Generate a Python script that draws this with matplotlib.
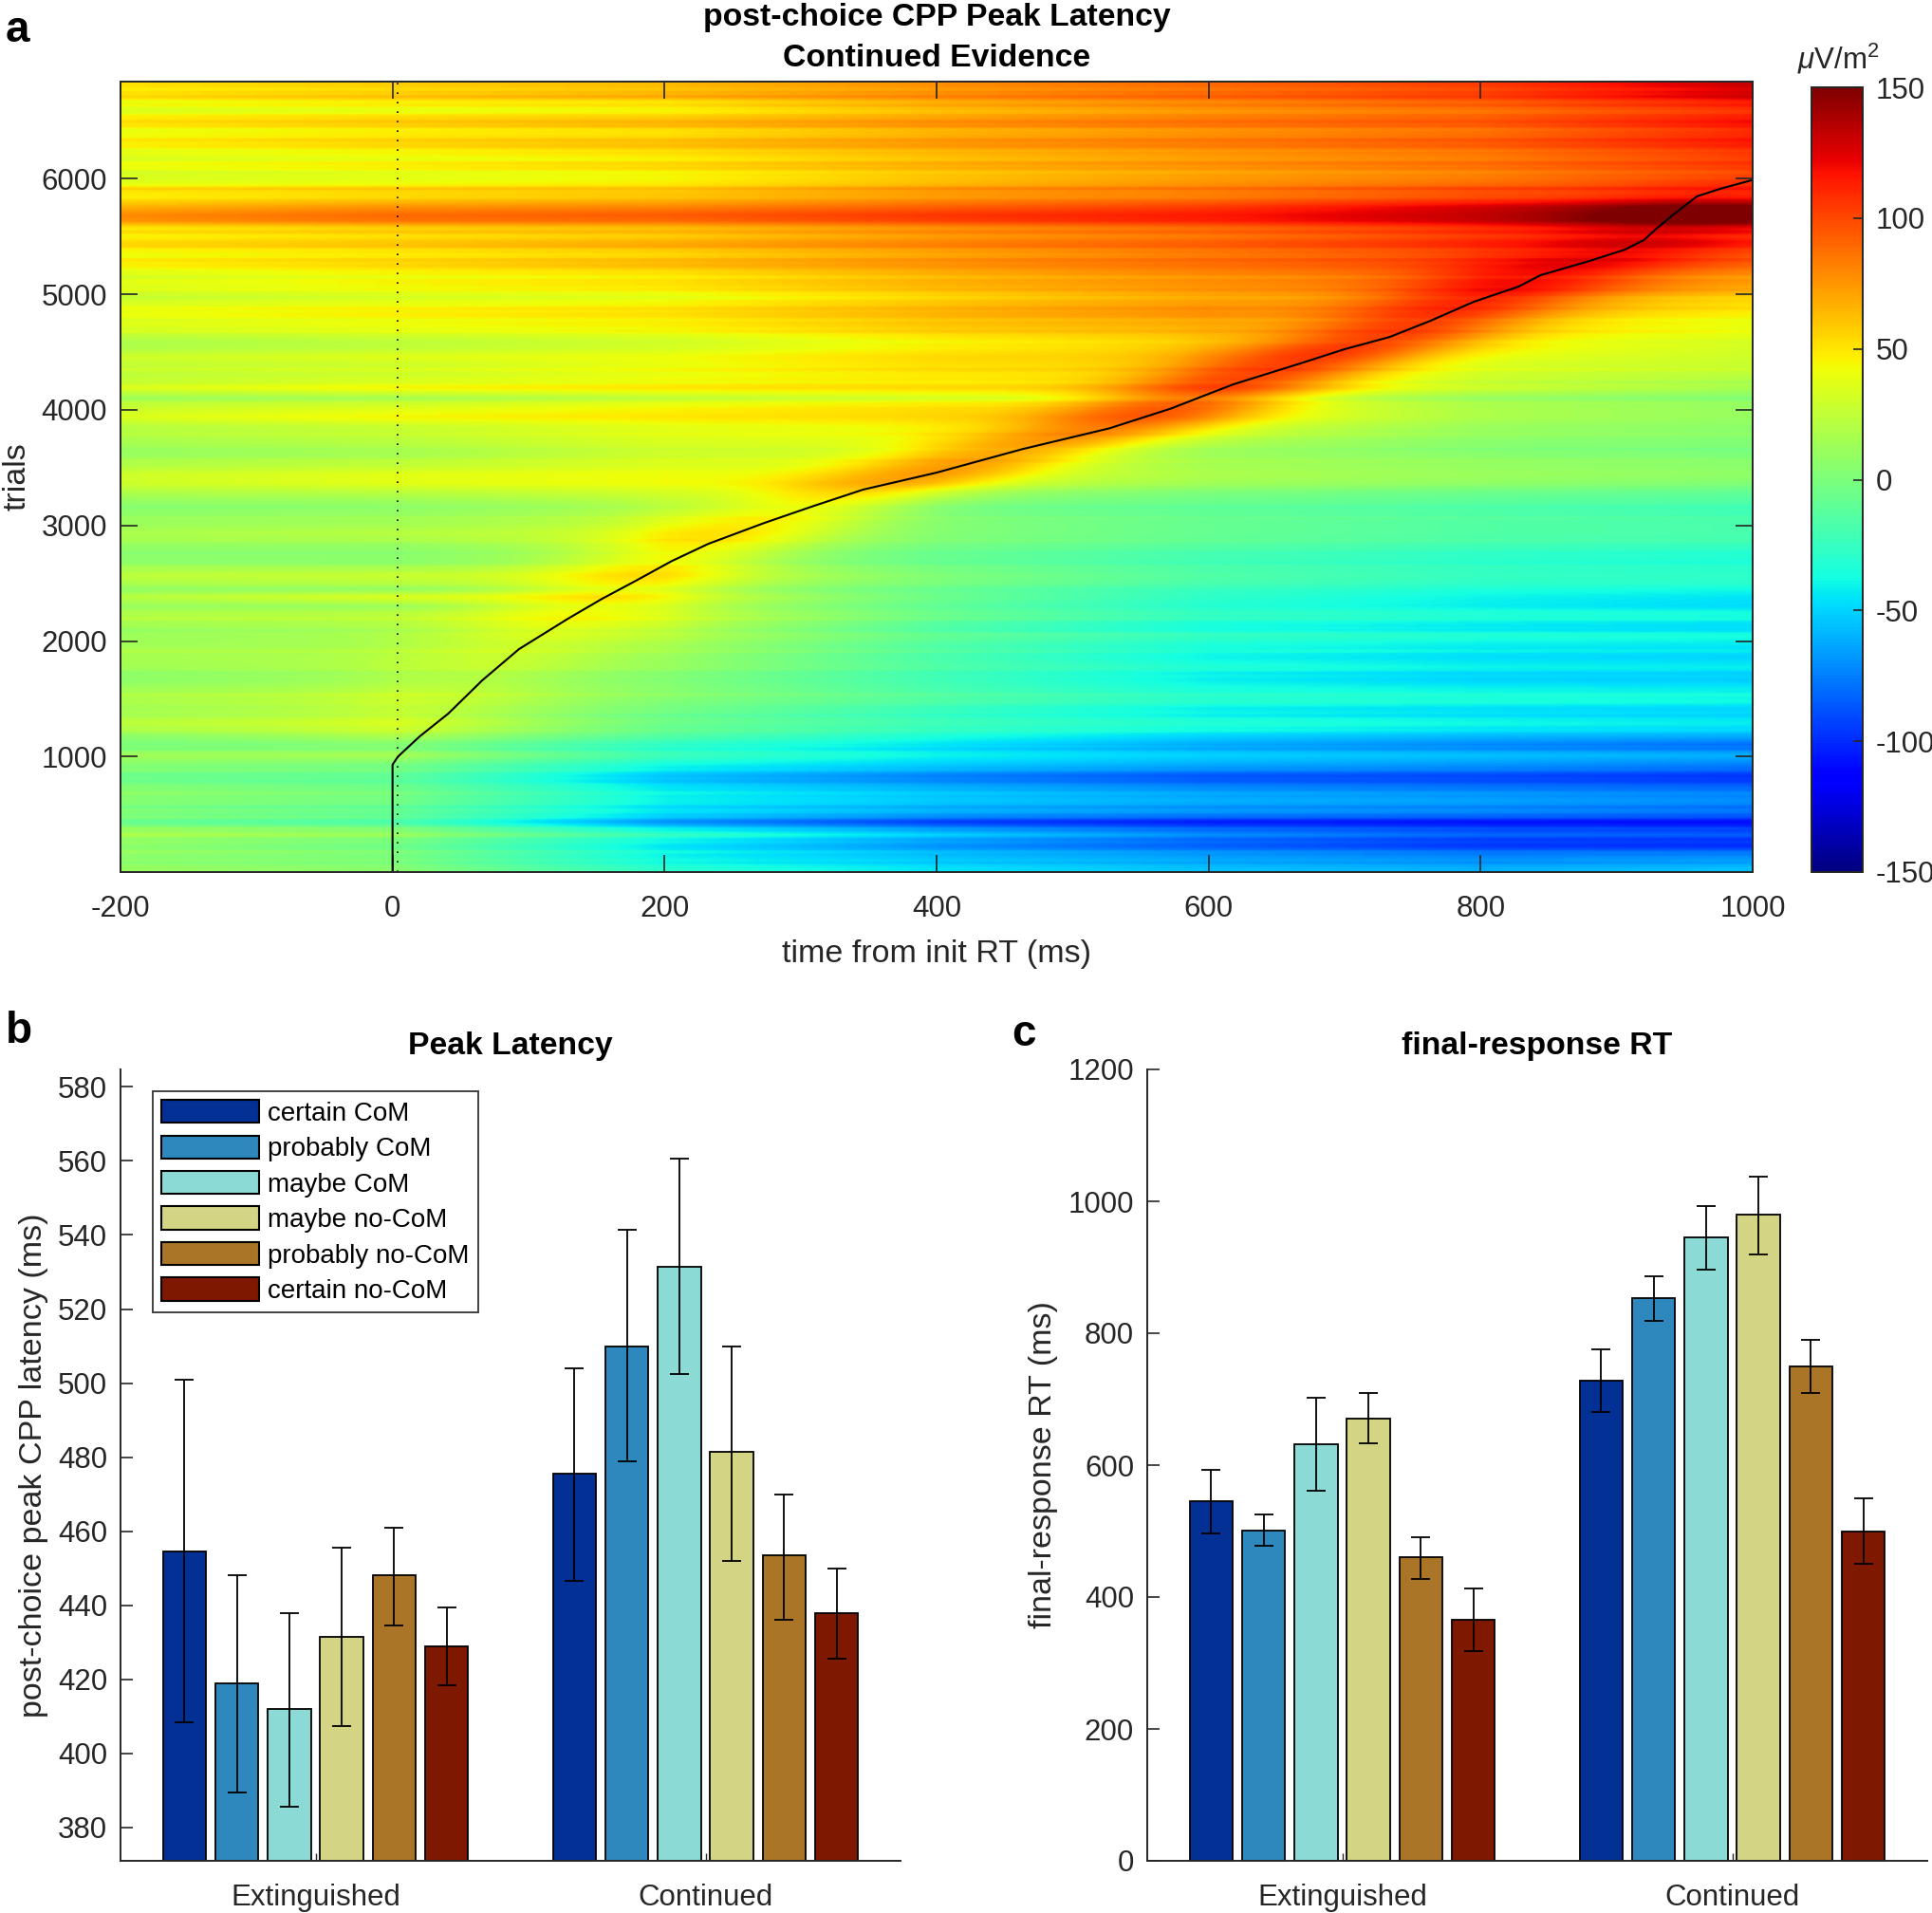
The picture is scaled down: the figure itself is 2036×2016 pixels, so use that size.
import numpy as np
import matplotlib
matplotlib.use("Agg")
import matplotlib.pyplot as plt
from matplotlib.patches import Patch

plt.rcParams['font.family'] = ['Liberation Sans', 'DejaVu Sans']
plt.rcParams['mathtext.fontset'] = 'custom'
plt.rcParams['mathtext.rm'] = 'Liberation Sans'
plt.rcParams['mathtext.it'] = 'Liberation Sans:italic'
plt.rcParams['axes.unicode_minus'] = False

W, H = 2036, 2016
TEXT = '#262626'
AX = '#262626'
FS = 22.5
LFS = 24.5
TFS = 24.3

# --- panel a: values
time_cols = [-200, 0, 200, 400, 600, 800, 1000]
trial_rows = [20, 130, 225, 321, 431, 513, 622, 732, 828, 923, 1005, 1101, 1170, 1279, 1416, 1471, 1580, 1663, 1772,
              1854, 1964, 2046, 2128, 2237, 2297, 2379, 2447, 2500, 2570, 2680, 2817, 2926, 3008, 3118, 3200, 3282,
              3364, 3446, 3500, 3610, 3720, 3857, 3939, 4020, 4103, 4190, 4295, 4400, 4460, 4540, 4623, 4730, 4830,
              4924, 5006, 5090, 5200, 5250, 5350, 5417, 5458, 5500, 5580, 5640, 5690, 5760, 5800, 5870, 5910, 5965,
              6020, 6100, 6170, 6210, 6290, 6400, 6462, 6540, 6607, 6676, 6717, 6730, 6840]
row_values = [
    [10, 5, -30, -45, -55, -60, -55], [6, 0, -40, -55, -65, -72, -70], [6, -5, -45, -70, -85, -97, -100],
    [18, 12, -25, -50, -70, -82, -85], [-8, -18, -70, -95, -105, -108, -110], [2, -8, -45, -60, -68, -72, -78],
    [4, -2, -40, -52, -60, -64, -70], [3, -5, -45, -60, -72, -78, -82], [-6, -10, -55, -75, -88, -92, -98],
    [3, -2, -38, -52, -62, -68, -75], [14, 15, -22, -40, -50, -55, -60], [0, 0, -28, -45, -62, -72, -80],
    [6, 14, -15, -35, -50, -58, -62], [24, 30, -5, -22, -32, -38, -42], [14, 20, -2, -25, -42, -47, -50],
    [18, 24, 2, -15, -30, -34, -38], [14, 18, 5, -18, -35, -40, -42], [6, 12, 2, -22, -42, -50, -52],
    [14, 18, 10, -15, -33, -40, -42], [16, 18, 10, -18, -40, -47, -50], [14, 15, 14, -15, -35, -42, -44],
    [12, 16, 20, -8, -25, -32, -36], [14, 18, 22, -15, -37, -44, -48], [20, 22, 25, -5, -25, -32, -35],
    [10, 10, 20, -10, -32, -42, -48], [22, 35, 28, -5, -28, -40, -45], [8, 8, 15, -8, -25, -34, -38],
    [18, 22, 22, 0, -18, -28, -30], [24, 28, 28, 2, -15, -25, -28], [6, 5, 15, -8, -22, -30, -35],
    [8, 8, 20, -3, -14, -22, -26], [18, 22, 28, 3, -8, -15, -18], [12, 15, 24, 3, -8, -15, -18],
    [6, 8, 18, -2, -10, -16, -22], [8, 10, 20, 2, -6, -12, -16], [18, 22, 30, 12, 0, -6, -10],
    [30, 37, 42, 30, 14, 8, 2], [30, 37, 42, 34, 18, 12, 8], [22, 28, 36, 34, 16, 10, 6],
    [10, 15, 30, 30, 12, 5, 0], [16, 22, 34, 36, 18, 5, 2], [22, 28, 38, 44, 32, 12, 6],
    [35, 45, 50, 54, 44, 18, 10], [28, 35, 44, 52, 42, 18, 10], [12, 15, 24, 32, 30, 10, 2],
    [35, 45, 50, 54, 52, 30, 16], [24, 30, 40, 48, 50, 30, 22], [26, 30, 40, 52, 54, 34, 28],
    [30, 37, 42, 54, 58, 38, 30], [18, 24, 32, 46, 56, 44, 32], [22, 28, 34, 48, 58, 46, 36],
    [35, 41, 46, 60, 67, 50, 40], [41, 47, 52, 66, 77, 60, 46], [33, 39, 44, 60, 73, 67, 52],
    [29, 35, 40, 56, 71, 76, 62], [37, 45, 51, 66, 77, 86, 72], [37, 45, 51, 68, 81, 92, 80],
    [47, 55, 65, 77, 88, 100, 90], [41, 47, 53, 69, 83, 98, 94], [55, 61, 70, 83, 94, 110, 107],
    [53, 59, 67, 80, 92, 110, 110], [45, 51, 57, 73, 84, 102, 100], [50, 57, 63, 77, 89, 107, 114],
    [76, 86, 89, 102, 113, 130, 150], [79, 89, 94, 106, 115, 132, 150], [66, 76, 80, 92, 104, 127, 148],
    [57, 65, 70, 83, 94, 112, 126], [47, 53, 60, 73, 82, 97, 102], [51, 55, 57, 73, 82, 97, 104],
    [37, 41, 47, 63, 76, 88, 102], [33, 37, 43, 60, 72, 82, 102], [41, 47, 55, 67, 76, 87, 104],
    [33, 39, 45, 60, 72, 82, 102], [37, 43, 50, 63, 74, 84, 104], [47, 55, 63, 75, 84, 94, 114],
    [41, 47, 50, 65, 76, 87, 110], [50, 57, 65, 77, 86, 94, 117], [47, 53, 57, 70, 82, 92, 114],
    [35, 39, 45, 63, 76, 87, 107], [41, 47, 50, 67, 79, 92, 114], [57, 65, 73, 85, 96, 107, 132],
    [51, 57, 65, 77, 89, 102, 127], [51, 57, 63, 77, 89, 104, 132],
]
# thin streaks seen on top of the broader bands
thin_trials = [75, 170, 280, 375, 470, 560, 680, 780, 880, 1060, 1220, 1350, 1530, 1720, 1910, 2090, 2190, 2640, 2760,
               2870, 3060, 3160, 3560, 3660, 3790, 4060, 4240, 4350, 4590, 4680, 4780, 4880, 4970, 5040, 5150, 5300,
               5390, 5540, 5840, 5920, 6060, 6140, 6250, 6340, 6430, 6500, 6580, 6640, 6780]
thin_offsets = [-4, 5, -5, 6, 5, -5, 4, -4, 4, -5, 4, -4, 4, -4, 4, -4, 4, 3, -3, 3, 3, -3, 3, -3, 3, 4, -4, 4, -3,
                4, -4, 4, -4, 4, -5, 5, -4, 5, -4, 6, -5, 5, -4, 5, -5, 4, -4, 5, -4]
peak_time = [0, 0, 2, 4, 20, 41, 66, 93, 129, 154, 179, 205, 232, 273, 310, 346, 400, 463, 527, 572, 618, 667, 700,
             733, 763, 795, 828, 844, 880, 906, 920, 930, 941, 959, 976, 999, 1000]
peak_trial = [1, 930, 965, 1000, 1175, 1372, 1660, 1930, 2193, 2365, 2522, 2690, 2840, 3020, 3170, 3310, 3457, 3660,
              3840, 4010, 4220, 4400, 4525, 4630, 4770, 4935, 5067, 5165, 5288, 5386, 5469, 5575, 5683, 5847, 5912,
              5986, 5990]
ridge_trial = [950, 1500, 2000, 2500, 3000, 3500, 4000, 4500, 5000, 5400, 5700, 6000]
ridge_amp = [0, 8, 15, 25, 30, 40, 50, 55, 40, 20, 15, 5]
ridge_pre_ms = 85
ridge_post_ms = 80

cbar_ticks = [-150, -100, -50, 0, 50, 100, 150]

# --- panels b and c
categories = ['certain CoM', 'probably CoM', 'maybe CoM', 'maybe no-CoM', 'probably no-CoM', 'certain no-CoM']
bar_colors = ['#033095', '#2e87bd', '#8bdad5', '#d3d484', '#ab7527', '#7e1800']
groups = ['Extinguished', 'Continued']

latency_ext = [454.5, 419, 412, 431.5, 448, 429]
latency_ext_hi = [501, 448, 438, 455.5, 461, 439.5]
latency_ext_lo = [408.5, 389.5, 385.5, 407.5, 434.5, 418.5]
latency_con = [475.5, 510, 531.5, 481.5, 453.5, 438]
latency_con_hi = [504, 541.5, 560.5, 510, 470, 450]
latency_con_lo = [446.5, 479, 502.5, 452, 436, 425.5]

rt_ext = [546, 501, 632, 671, 460, 365]
rt_ext_hi = [593, 525, 702, 709, 491, 413]
rt_ext_lo = [497, 478, 561, 633, 428, 318]
rt_con = [728, 853, 945, 980, 750, 500]
rt_con_hi = [775, 887, 993, 1038, 790, 550]
rt_con_lo = [681, 818, 897, 920, 709, 450]


def axes_px(fig, x0, y0, x1, y1):
    return fig.add_axes([x0 / W, 1 - y1 / H, (x1 - x0) / W, (y1 - y0) / H])


fig = plt.figure(figsize=(W / 100, H / 100), dpi=100, facecolor='white')

# ---------- panel a
ax = axes_px(fig, 127, 86, 1847, 919)
t_grid = np.linspace(-200, 1000, 361)
tr_grid = np.linspace(1, 6840, 685)
row_arr = np.array(row_values, dtype=float)
bg = np.array([np.interp(tr_grid, trial_rows, row_arr[:, j]) for j in range(len(time_cols))]).T
field = np.array([np.interp(t_grid, time_cols, r) for r in bg])
for tr0, off in zip(thin_trials, thin_offsets):
    field[np.abs(tr_grid - tr0) <= 12, :] += off
peak_by_trial = np.interp(tr_grid, peak_trial, peak_time)
amp_by_trial = np.interp(tr_grid, ridge_trial, ridge_amp, left=0, right=0)
dt = t_grid[None, :] - peak_by_trial[:, None]
field += amp_by_trial[:, None] * np.exp(-(dt / np.where(dt < 0, ridge_pre_ms, ridge_post_ms)) ** 2)
im = ax.imshow(field, extent=[-200, 1000, 1, 6840], origin='lower', aspect='auto', cmap='jet',
               vmin=-150, vmax=150, interpolation='bilinear')
ax.plot(peak_time, peak_trial, color='black', lw=1.5)
ax.axvline(4, color='black', ls=(0, (1, 5)), lw=1.2)
ax.set_xlim(-200, 1000)
ax.set_ylim(1, 6840)
ax.set_xticks([-200, 0, 200, 400, 600, 800, 1000])
ax.set_yticks([1000, 2000, 3000, 4000, 5000, 6000])
ax.tick_params(which='both', direction='in', top=True, right=True, length=13, width=1.2, color=AX,
               labelsize=FS, labelcolor=TEXT)
ax.tick_params(axis='x', pad=17)
ax.tick_params(axis='y', pad=10)
for s in ax.spines.values():
    s.set_linewidth(1.4)
    s.set_color(AX)
ax.set_xlabel('time from init RT (ms)', fontsize=LFS, color=TEXT)
ax.xaxis.set_label_coords(0.5, -0.0853)
ax.set_ylabel('trials', fontsize=LFS, color=TEXT)
ax.yaxis.set_label_coords(-0.0545, 0.5)
fig.text(987 / W, 1 - 19 / H, 'post-choice CPP Peak Latency', ha='center', va='center', fontsize=TFS, fontweight='bold')
fig.text(987 / W, 1 - 62 / H, 'Continued Evidence', ha='center', va='center', fontsize=TFS, fontweight='bold')

# colour bar
cax = axes_px(fig, 1909, 92, 1963, 919)
cb = fig.colorbar(im, cax=cax)
cb.set_ticks(cbar_ticks)
cax.tick_params(direction='in', length=7, width=1.2, color=AX, labelsize=FS, labelcolor=TEXT, pad=10)
cb.outline.set_linewidth(1.4)
cb.outline.set_edgecolor(AX)
fig.text(1937 / W, 1 - 62 / H, r'$\mathit{\mu}$V/m$^{2}$', ha='center', va='center', fontsize=FS, color=TEXT)


def bar_panel(box, ext, ext_hi, ext_lo, con, con_hi, con_lo, ylim, yticks, ylabel, title, label_x):
    a = axes_px(fig, *box)
    step, width = 0.1345, 0.1104
    for g, (v, hi, lo) in enumerate([(ext, ext_hi, ext_lo), (con, con_hi, con_lo)]):
        for i in range(6):
            xp = g + 1 + (i - 2.5) * step
            a.bar(xp, v[i], width=width, color=bar_colors[i], edgecolor='black', linewidth=1.3, zorder=2)
            a.errorbar(xp, v[i], yerr=[[v[i] - lo[i]], [hi[i] - v[i]]], color='black', lw=1.3,
                       capsize=7.5, capthick=1.3, zorder=3)
    a.set_xlim(0.5, 2.5)
    a.set_ylim(*ylim)
    a.set_xticks([1, 2], groups)
    a.set_yticks(yticks)
    a.tick_params(axis='x', direction='in', length=6, width=1, color=AX, labelsize=FS, labelcolor=TEXT, pad=17)
    a.tick_params(axis='y', direction='in', length=9, width=1.2, color=AX, labelsize=FS, labelcolor=TEXT, pad=10)
    a.spines['top'].set_visible(False)
    a.spines['right'].set_visible(False)
    for side in ('left', 'bottom'):
        a.spines[side].set_linewidth(1.4)
        a.spines[side].set_color(AX)
    a.set_ylabel(ylabel, fontsize=LFS, color=TEXT)
    a.yaxis.set_label_coords(label_x, 0.5)
    fig.text((box[0] + box[2]) / 2 / W, 1 - 1103 / H, title, ha='center', va='center', fontsize=TFS, fontweight='bold')
    return a


axb = bar_panel((127, 1127, 949, 1961), latency_ext, latency_ext_hi, latency_ext_lo, latency_con, latency_con_hi,
                latency_con_lo, (371, 584.7), list(range(380, 581, 20)), 'post-choice peak CPP latency (ms)',
                'Peak Latency', -0.0925)
axc = bar_panel((1209, 1127, 2031, 1961), rt_ext, rt_ext_hi, rt_ext_lo, rt_con, rt_con_hi, rt_con_lo,
                (0, 1200), list(range(0, 1201, 200)), 'final-response RT (ms)', 'final-response RT', -0.1145)

handles = [Patch(facecolor=c, edgecolor='black', linewidth=1.5, label=n) for c, n in zip(bar_colors, categories)]
leg = axb.legend(handles=handles, loc='upper left', bbox_to_anchor=(161 / W, 1 - 1150 / H),
                 bbox_transform=fig.transFigure, fontsize=20, frameon=True, fancybox=False, edgecolor='#404040',
                 framealpha=1, handlelength=3.7, handleheight=0.97, labelspacing=0.35, handletextpad=0.33,
                 borderpad=0.33, borderaxespad=0)
leg.get_frame().set_linewidth(1.4)

for lab, x, y in [('a', 6, 32), ('b', 6, 1087), ('c', 1066, 1090)]:
    fig.text(x / W, 1 - y / H, lab, ha='left', va='center', fontsize=33, fontweight='bold', color='black')

fig.savefig('out.png', dpi=100, facecolor='white')
